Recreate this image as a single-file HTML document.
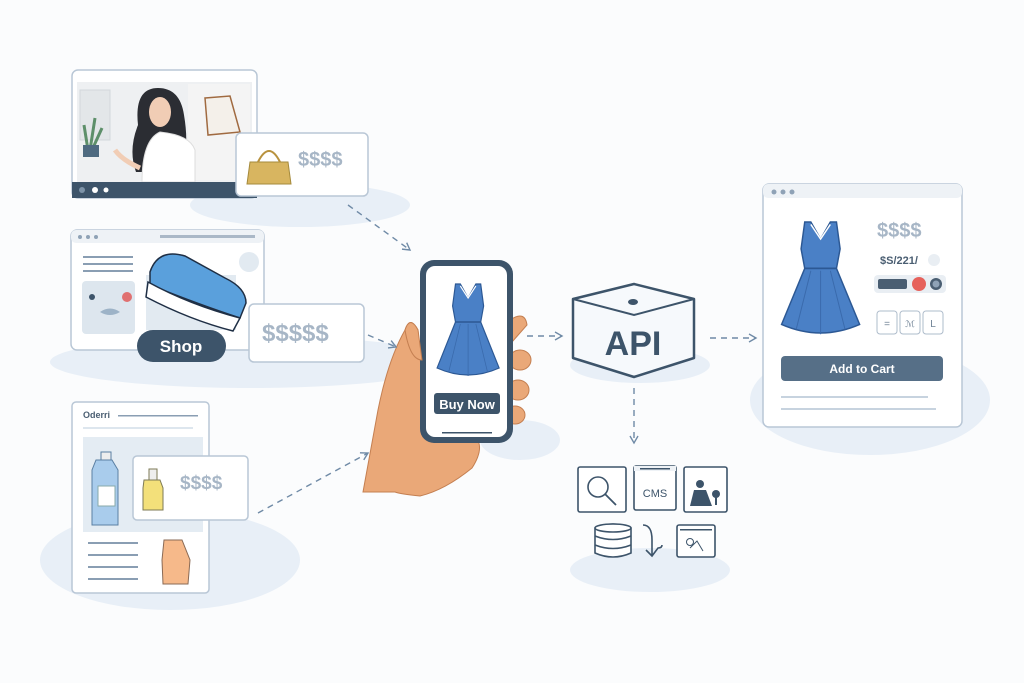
<!DOCTYPE html>
<html><head><meta charset="utf-8"><style>
html,body{margin:0;padding:0;background:#fbfcfd;}
svg{display:block;}
text{font-family:"Liberation Sans",sans-serif;}
</style></head><body>
<svg width="1024" height="683" viewBox="0 0 1024 683" xmlns="http://www.w3.org/2000/svg">
<defs>
<g id="dress">
<path d="M17,0 L22,0 L30,14 L38,0 L43,0 L46,22 L43,38 L62,84 Q30,98 -2,84 L17,38 L14,22 Z" fill="#4a80c6" stroke="#2c5894" stroke-width="1.2"/>
<path d="M17,38 L43,38" stroke="#2c5894" stroke-width="1.5"/>
<path d="M22,40 L10,88 M30,40 L30,92 M38,40 L50,88" stroke="#3a6aac" stroke-width="0.8" fill="none"/>
<path d="M22,2 L30,14 L38,2" stroke="#fff" stroke-width="1.2" fill="none"/>
</g>
<marker id="ah" markerWidth="10" markerHeight="10" refX="8" refY="5" orient="auto" markerUnits="userSpaceOnUse">
<path d="M1,1 L8,5 L1,9" fill="none" stroke="#6f8aa6" stroke-width="1.4"/>
</marker>
</defs>
<rect width="1024" height="683" fill="#fbfcfd"/>
<g fill="#e8eff7">
<ellipse cx="300" cy="205" rx="110" ry="22"/>
<ellipse cx="250" cy="362" rx="200" ry="26"/>
<ellipse cx="170" cy="560" rx="130" ry="50"/>
<ellipse cx="870" cy="400" rx="120" ry="55"/>
<ellipse cx="650" cy="570" rx="80" ry="22"/>
<ellipse cx="640" cy="365" rx="70" ry="18"/>
<ellipse cx="520" cy="440" rx="40" ry="20"/>
</g>

<!-- Video window -->
<rect x="72" y="70" width="185" height="128" rx="6" fill="#fff" stroke="#b9c7d6" stroke-width="1.5"/>
<rect x="77" y="82" width="175" height="100" fill="#eef0f2"/>
<rect x="188" y="84" width="62" height="96" fill="#f4f4f4"/>
<rect x="80" y="90" width="30" height="50" fill="#e3e6e9" stroke="#d3d7dc"/>
<path d="M88,150 L84,125 M90,150 L95,118 M92,150 L102,128" stroke="#5d8f6a" stroke-width="3"/>
<rect x="83" y="145" width="16" height="12" fill="#4e6a80"/>
<path d="M138,125 Q134,88 158,88 Q180,88 184,115 Q190,150 180,172 L136,172 Q128,150 138,125 Z" fill="#2b2d33"/>
<ellipse cx="160" cy="112" rx="11" ry="15" fill="#f1cdb5"/>
<path d="M142,182 Q142,140 160,132 Q190,135 195,150 L195,182 Z" fill="#fff" stroke="#ddd"/>
<path d="M115,150 Q122,160 140,168" stroke="#f1cdb5" stroke-width="5" fill="none"/>
<path d="M205,98 L230,96 L240,132 L208,135 Z" fill="#f4f0ea" stroke="#a06a40" stroke-width="1.5"/>
<rect x="72" y="182" width="185" height="16" fill="#3d546a"/>
<circle cx="82" cy="190" r="3" fill="#7d93a8"/><circle cx="95" cy="190" r="3" fill="#fff"/><circle cx="106" cy="190" r="2.5" fill="#fff"/>
<rect x="236" y="133" width="132" height="63" rx="5" fill="#fff" stroke="#b9c7d6" stroke-width="1.5"/>
<path d="M250,162 L288,162 L291,184 L247,184 Z" fill="#d8b560" stroke="#a58a3b"/>
<path d="M258,162 Q269,140 280,162" fill="none" stroke="#b8923e" stroke-width="2"/>
<text x="298" y="166" font-size="20" font-weight="bold" fill="#a7b6c6">$$$$</text>

<!-- Shop window -->
<rect x="71" y="230" width="193" height="120" rx="6" fill="#fff" stroke="#b9c7d6" stroke-width="1.5"/>
<rect x="71" y="230" width="193" height="13" rx="5" fill="#eef2f6"/>
<circle cx="80" cy="237" r="2" fill="#8fa2b6"/><circle cx="88" cy="237" r="2" fill="#8fa2b6"/><circle cx="96" cy="237" r="2" fill="#8fa2b6"/>
<rect x="160" y="235" width="95" height="3" fill="#aab8c7"/>
<rect x="83" y="256" width="50" height="2" fill="#8a9eb3"/><rect x="83" y="263" width="50" height="2" fill="#8a9eb3"/><rect x="83" y="270" width="50" height="2" fill="#8a9eb3"/>
<rect x="82" y="281" width="53" height="53" rx="4" fill="#dde6ee"/>
<circle cx="92" cy="297" r="3" fill="#3d546a"/><circle cx="127" cy="297" r="5" fill="#e07070"/>
<path d="M100,312 Q110,305 120,312 Q110,318 100,312 Z" fill="#9db3c7"/>
<rect x="146" y="275" width="90" height="55" fill="#e2eaf1"/>
<circle cx="249" cy="262" r="10" fill="#e2eaf1"/>
<path d="M150,272 Q158,248 185,256 L225,278 Q246,288 246,303 L240,318 Q200,305 150,285 Z" fill="#5aa0dc" stroke="#1f2f45" stroke-width="1.5"/>
<path d="M148,282 Q190,305 240,318 L233,331 Q190,320 146,297 Z" fill="#fff" stroke="#1f2f45" stroke-width="1.5"/>
<rect x="137" y="330" width="89" height="32" rx="16" fill="#3d546a"/>
<text x="181" y="352" font-size="17" font-weight="bold" fill="#fff" text-anchor="middle">Shop</text>
<rect x="249" y="304" width="115" height="58" rx="5" fill="#fff" stroke="#b9c7d6" stroke-width="1.5"/>
<text x="262" y="341" font-size="24" font-weight="bold" fill="#a7b6c6">$$$$$</text>

<!-- Order window -->
<rect x="72" y="402" width="137" height="191" rx="4" fill="#fff" stroke="#b9c7d6" stroke-width="1.5"/>
<text x="83" y="418" font-size="9" font-weight="bold" fill="#4a5e72">Oderri</text>
<rect x="118" y="415" width="80" height="1.5" fill="#8a9eb3"/>
<rect x="83" y="427" width="110" height="2" fill="#dde6ee"/>
<rect x="83" y="437" width="120" height="95" fill="#e4ecf3"/>
<path d="M96,460 L112,460 L118,470 L118,525 L92,525 L92,470 Z" fill="#a9ccec" stroke="#5a7fa3"/>
<rect x="101" y="452" width="10" height="8" fill="#eee" stroke="#5a7fa3"/>
<rect x="98" y="486" width="17" height="20" fill="#fff" stroke="#8aa"/>
<rect x="88" y="542" width="50" height="2" fill="#8a9eb3"/><rect x="88" y="554" width="50" height="2" fill="#8a9eb3"/><rect x="88" y="566" width="50" height="2" fill="#8a9eb3"/><rect x="88" y="578" width="50" height="2" fill="#8a9eb3"/>
<path d="M164,540 L182,540 L190,560 L188,584 L163,584 L162,560 Z" fill="#f6b98a" stroke="#8a6a55"/>
<rect x="133" y="456" width="115" height="64" rx="4" fill="#fff" stroke="#b9c7d6" stroke-width="1.5"/>
<path d="M144,480 L160,480 L163,488 L163,510 L143,510 L143,488 Z" fill="#f3e07a" stroke="#7d7a55"/>
<rect x="149" y="469" width="8" height="11" fill="#eee" stroke="#7d7a55"/>
<text x="180" y="489" font-size="19" font-weight="bold" fill="#a7b6c6">$$$$</text>

<!-- Hand -->
<path d="M363,492 L378,410 Q388,360 405,330 Q410,315 418,330 L425,420 L465,430 Q490,440 472,468 Q445,490 420,496 Q400,494 395,492 Z" fill="#eaa878" stroke="#c47f51" stroke-width="1"/>
<path d="M510,320 Q525,310 527,325 L512,342 Z" fill="#eaa878" stroke="#c47f51"/>
<ellipse cx="520" cy="360" rx="11" ry="10" fill="#eaa878" stroke="#c47f51"/>
<ellipse cx="518" cy="390" rx="11" ry="10" fill="#eaa878" stroke="#c47f51"/>
<ellipse cx="515" cy="415" rx="10" ry="9" fill="#eaa878" stroke="#c47f51"/>
<rect x="420" y="260" width="93" height="183" rx="14" fill="#3d546a"/>
<rect x="426" y="266" width="81" height="171" rx="9" fill="#fff"/>
<use href="#dress" transform="translate(439,284) scale(0.97,1.0)"/>
<rect x="434" y="393" width="66" height="21" rx="3" fill="#3d546a"/>
<text x="467" y="409" font-size="13" font-weight="bold" fill="#fff" text-anchor="middle">Buy Now</text>
<rect x="442" y="432" width="50" height="1.5" fill="#3d546a"/>
<path d="M405,330 Q410,315 418,330 L422,360 Q410,360 405,330 Z" fill="#eaa878" stroke="#c47f51"/>

<!-- API box -->
<path d="M573,299 L634,284 L694,299 L694,358 L634,377 L573,358 Z" fill="#f6f9fc" stroke="#3d546a" stroke-width="2.5" stroke-linejoin="round"/>
<path d="M573,299 L634,315 L694,299" fill="none" stroke="#3d546a" stroke-width="2"/>
<ellipse cx="633" cy="302" rx="5" ry="3" fill="#3d546a"/>
<text x="633" y="355" font-size="34" font-weight="bold" fill="#3d546a" text-anchor="middle">API</text>

<!-- Right product window -->
<rect x="763" y="184" width="199" height="243" rx="6" fill="#fff" stroke="#b9c7d6" stroke-width="1.5"/>
<rect x="763" y="184" width="199" height="14" rx="5" fill="#eef2f6"/>
<circle cx="774" cy="192" r="2.5" fill="#8fa2b6"/><circle cx="783" cy="192" r="2.5" fill="#8fa2b6"/><circle cx="792" cy="192" r="2.5" fill="#8fa2b6"/>
<use href="#dress" transform="translate(784,222) scale(1.22,1.22)"/>
<text x="877" y="237" font-size="20" font-weight="bold" fill="#a7b6c6">$$$$</text>
<text x="880" y="264" font-size="11" font-weight="bold" fill="#4a5e72">$S/221/</text>
<circle cx="934" cy="260" r="6" fill="#e9eef3"/>
<rect x="874" y="275" width="72" height="18" rx="4" fill="#e9eef3"/>
<rect x="878" y="279" width="29" height="10" rx="2" fill="#4a5e72"/>
<circle cx="919" cy="284" r="7" fill="#e6615b"/>
<circle cx="936" cy="284" r="6" fill="#4a5e72"/><circle cx="936" cy="284" r="3.5" fill="#8fa2b6"/>
<rect x="877" y="311" width="20" height="23" rx="3" fill="#fff" stroke="#aebccb"/>
<rect x="900" y="311" width="20" height="23" rx="3" fill="#fff" stroke="#aebccb"/>
<rect x="923" y="311" width="20" height="23" rx="3" fill="#fff" stroke="#aebccb"/>
<text x="887" y="327" font-size="10" fill="#6f8295" text-anchor="middle">=</text>
<text x="910" y="327" font-size="9" fill="#6f8295" text-anchor="middle">ℳ</text>
<text x="933" y="327" font-size="10" fill="#6f8295" text-anchor="middle">L</text>
<rect x="781" y="356" width="162" height="25" rx="4" fill="#566f87"/>
<text x="862" y="373" font-size="12" font-weight="bold" fill="#fff" text-anchor="middle">Add to Cart</text>
<rect x="781" y="396" width="147" height="2" fill="#c7d3df"/>
<rect x="781" y="408" width="155" height="2" fill="#c7d3df"/>

<!-- icons bottom -->
<g fill="#fff" stroke="#3d546a" stroke-width="1.6">
<rect x="578" y="467" width="48" height="45" rx="2"/>
<rect x="634" y="466" width="42" height="44" rx="2"/>
<rect x="684" y="467" width="43" height="45" rx="2"/>
<rect x="677" y="525" width="38" height="32" rx="2"/>
</g>
<circle cx="598" cy="487" r="10" fill="none" stroke="#3d546a" stroke-width="1.6"/>
<path d="M605,494 L616,505" stroke="#3d546a" stroke-width="1.8"/>
<rect x="634" y="466" width="42" height="5" fill="#eef2f6"/><rect x="640" y="468" width="30" height="1.5" fill="#3d546a"/>
<text x="655" y="497" font-size="11" fill="#3d546a" text-anchor="middle">CMS</text>
<circle cx="700" cy="484" r="4" fill="#3d546a"/>
<path d="M690,506 L694,490 L706,490 L712,506 Z" fill="#3d546a"/>
<circle cx="716" cy="494" r="4" fill="#3d546a"/><rect x="715" y="497" width="2" height="8" fill="#3d546a"/>
<rect x="680" y="529" width="32" height="1.5" fill="#3d546a"/>
<circle cx="690" cy="542" r="3.5" fill="none" stroke="#3d546a"/><path d="M690,548 L697,541 L703,551" stroke="#3d546a" fill="none"/>
<g fill="#fff" stroke="#3d546a" stroke-width="1.6">
<path d="M595,528 Q613,520 631,528 L631,553 Q613,561 595,553 Z"/>
<path d="M595,536 Q613,543 631,536 M595,545 Q613,552 631,545" fill="none"/>
<ellipse cx="613" cy="528" rx="18" ry="4"/>
</g>
<path d="M643,525 Q652,525 652,540 L652,555 M646,550 L652,556 L658,548 Q662,548 662,545" fill="none" stroke="#3d546a" stroke-width="1.6"/>

<!-- connectors -->
<g stroke="#6f8aa6" stroke-width="1.4" stroke-dasharray="6,5" fill="none" marker-end="url(#ah)">
<path d="M348,205 L410,250"/>
<path d="M368,335 L396,347"/>
<path d="M258,513 L368,453"/>
<path d="M527,336 L562,336"/>
<path d="M634,388 L634,443"/>
<path d="M710,338 L756,338"/>
</g>
</svg>
</body></html>
